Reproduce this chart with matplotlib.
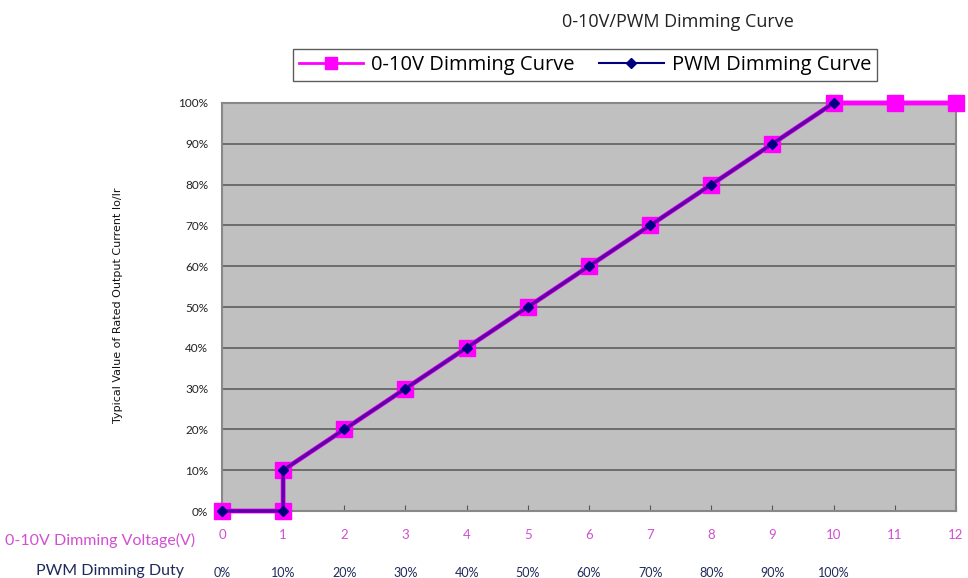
import matplotlib.pyplot as plt
from matplotlib.lines import Line2D
from matplotlib.transforms import blended_transform_factory

# 数据
volt_x = [0, 1, 1, 2, 3, 4, 5, 6, 7, 8, 9, 10, 11, 12]
volt_y = [0, 0, 10, 20, 30, 40, 50, 60, 70, 80, 90, 100, 100, 100]
pwm_x = [0, 1, 1, 2, 3, 4, 5, 6, 7, 8, 9, 10]
pwm_y = [0, 0, 10, 20, 30, 40, 50, 60, 70, 80, 90, 100]
volt_ticks = list(range(13))
duty_labels = ['0%', '10%', '20%', '30%', '40%', '50%', '60%', '70%', '80%', '90%', '100%']
y_ticks = list(range(0, 101, 10))

plt.rcParams['font.family'] = ['Lato', 'DejaVu Sans']

fig = plt.figure(figsize=(9.68, 5.78), dpi=100)
ax = fig.add_axes([0.2293, 0.1159, 0.7583, 0.7059])
ax.set_facecolor('#c0c0c0')

# 曲线
ax.plot(volt_x, volt_y, color='#ff00ff', lw=3.5, marker='s', markersize=12,
        markerfacecolor='#ff00ff', markeredgecolor='#ff00ff', zorder=3, clip_on=False)
ax.plot(pwm_x, pwm_y, color='#5e00a8', lw=2.5, marker='D', markersize=5,
        markerfacecolor='#000080', markeredgecolor='#000080', zorder=4, clip_on=False)

ax.set_xlim(0, 12)
ax.set_ylim(0, 100)
ax.set_yticks(y_ticks)
ax.set_yticklabels([f'{v}%' for v in y_ticks], fontsize=8.5, color='#222222')
ax.set_xticks(volt_ticks)
ax.set_xticklabels([str(v) for v in volt_ticks], fontsize=9.5, color='#d050d0')
ax.tick_params(axis='x', direction='in', length=4, color='#555555', pad=13)
ax.tick_params(axis='y', length=0, pad=10)
ax.yaxis.grid(True, color='#666666', lw=1.3)
ax.set_axisbelow(True)
for s in ax.spines.values():
    s.set_color('#888888')
    s.set_linewidth(1.5)

# 第二行标签
tr = blended_transform_factory(ax.transData, fig.transFigure)
for i, lab in enumerate(duty_labels):
    ax.text(i, 1 - 573 / 578, lab, transform=tr, ha='center', va='center',
            fontsize=9, color='#1f2a5a')
fig.text(195 / 968, 1 - 540 / 578, '0-10V Dimming Voltage(V)', ha='right', va='center',
         fontsize=11.5, color='#d050d0')
fig.text(110 / 968, 1 - 571 / 578, 'PWM Dimming Duty', ha='center', va='center',
         fontsize=11.5, color='#1f2a5a')

fig.text(118 / 968, 1 - 305 / 578, 'Typical Value of Rated Output Current Io/Ir',
         rotation=90, ha='center', va='center', fontsize=8, color='#111111',
         family=['Liberation Sans Narrow', 'DejaVu Sans'])

fig.text(678 / 968, 1 - 22 / 578, '0-10V/PWM Dimming Curve', ha='center', va='center',
         fontsize=13, color='#222222', family=['Open Sans', 'DejaVu Sans'])

handles = [
    Line2D([], [], color='#ff00ff', lw=2, marker='s', markersize=9, markerfacecolor='#ff00ff'),
    Line2D([], [], color='#000080', lw=1.5, marker='D', markersize=5, markerfacecolor='#000080'),
]
leg = fig.legend(handles, ['0-10V Dimming Curve', 'PWM Dimming Curve'], ncol=2,
                 loc='center', bbox_to_anchor=(585 / 968, 1 - 65 / 578),
                 frameon=True, fancybox=False, edgecolor='#333333',
                 handlelength=3.2, columnspacing=1.2, handletextpad=0.4,
                 borderpad=0.3, prop={'family': ['Open Sans', 'DejaVu Sans'], 'size': 14.5})
leg.get_frame().set_linewidth(1)

fig.savefig('out.png', dpi=100)
